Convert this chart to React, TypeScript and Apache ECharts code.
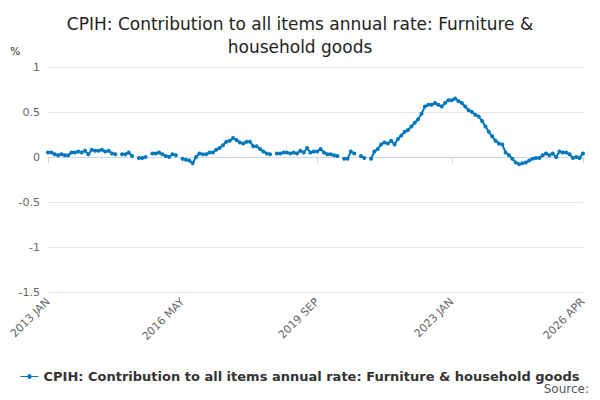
import React, { useEffect, useRef } from "react";
import * as echarts from "echarts";

const MONTHS = ["JAN","FEB","MAR","APR","MAY","JUN","JUL","AUG","SEP","OCT","NOV","DEC"];
const categories: string[] = [];
for (let y = 2013; y <= 2026; y++) for (let m = 0; m < 12; m++) if (y < 2026 || m < 4) categories.push(`${y} ${MONTHS[m]}`);
const tickIndices = [0, 40, 80, 120, 159];

const values: (number | null)[] = [
  0.05,0.05,0.03,0.02,0.03,0.02,0.02,0.05,0.05,0.06,0.05,0.07,0.03,0.08,0.07,0.07,0.08,0.06,0.07,0.04,0.03,
  null,
  0.03,0.03,0.05,0.01,
  null,
  -0.01,-0.01,0.0,
  null,
  0.04,0.04,0.05,0.03,0.01,0.0,0.03,0.02,
  null,
  -0.02,-0.03,-0.04,-0.07,
  0.0,0.04,0.03,0.03,0.05,0.05,0.08,0.1,0.13,0.17,0.18,0.21,0.19,
  0.16,0.15,0.17,0.17,0.12,0.12,0.09,0.06,0.04,0.03,
  null,
  0.04,0.04,0.05,0.05,0.04,0.05,0.04,0.07,0.05,0.1,0.05,0.06,0.06,0.09,0.05,0.03,0.03,0.02,0.01,
  null,
  -0.02,-0.02,0.06,0.04,
  null,
  0.01,-0.01,
  null,
  -0.02,0.06,0.09,0.14,0.16,0.15,0.18,0.14,0.2,0.24,0.28,0.3,0.34,0.38,0.42,0.48,0.56,0.58,0.58,0.6,
  0.58,0.56,0.6,0.63,0.63,0.65,0.62,0.6,0.56,0.52,0.5,0.47,0.45,0.4,0.34,0.28,0.23,0.18,0.15,0.14,
  0.05,0.02,-0.02,-0.06,-0.08,-0.07,-0.06,-0.04,-0.02,-0.01,-0.01,0.02,0.04,0.02,0.04,0.0,0.06,0.05,0.05,
  0.03,-0.01,0.0,-0.01,0.04,
];

const SERIES_NAME = "CPIH: Contribution to all items annual rate: Furniture & household goods";

export default function App() {
  const ref = useRef<HTMLDivElement>(null);
  useEffect(() => {
    const chart = echarts.init(ref.current!, null, { renderer: "svg" });
    chart.setOption({
      animation: false,
      textStyle: { fontFamily: "DejaVu Sans, sans-serif" },
      title: {
        text: "CPIH: Contribution to all items annual rate: Furniture &\nhousehold goods",
        left: "center", top: 7,
        textStyle: { fontSize: 17, fontWeight: "normal", color: "#222", lineHeight: 23, fontFamily: "DejaVu Sans" },
      },
      graphic: [
        { type: "text", left: 10, top: 46, style: { text: "%", fontSize: 11, fill: "#333", fontFamily: "DejaVu Sans" } },
        { type: "text", right: 11, top: 383, style: { text: "Source:", fontSize: 12, fill: "#555", fontFamily: "DejaVu Sans" } },
      ],
      legend: {
        top: 365, left: "center", itemWidth: 18, itemHeight: 8, itemGap: 4,
        textStyle: { fontSize: 13, color: "#333", fontWeight: "bold" },
        data: [{ name: SERIES_NAME, icon: "path://M0,4L7,4A2,2,0,1,1,11,4L18,4L18,5L11,5A2,2,0,1,1,7,5L0,5Z" }],
      },
      grid: { left: 48, right: 17, top: 67, bottom: 108 },
      xAxis: {
        type: "category", data: categories, boundaryGap: false,
        axisLine: { lineStyle: { color: "#ccd6eb" } },
        axisTick: { alignWithLabel: true, length: 6, lineStyle: { color: "#ccd6eb" }, interval: (i: number) => tickIndices.includes(i) },
        axisLabel: { rotate: 45, color: "#666", fontSize: 11, interval: (i: number) => tickIndices.includes(i) },
      },
      yAxis: {
        type: "value", min: -1.5, max: 1, interval: 0.5,
        axisLabel: { color: "#666", fontSize: 11, formatter: (v: number) => String(v) },
        splitLine: { lineStyle: { color: "#e6e6e6" } },
      },
      series: [{
        name: SERIES_NAME, type: "line", data: values, connectNulls: false,
        symbol: "circle", symbolSize: 4, showSymbol: true, showAllSymbol: true,
        lineStyle: { color: "#0077bb", width: 2 }, itemStyle: { color: "#0077bb" },
      }],
    });
    return () => chart.dispose();
  }, []);
  return <div ref={ref} style={{ position: "absolute", left: 0, top: 0, width: 600, height: 400 }} />;
}
